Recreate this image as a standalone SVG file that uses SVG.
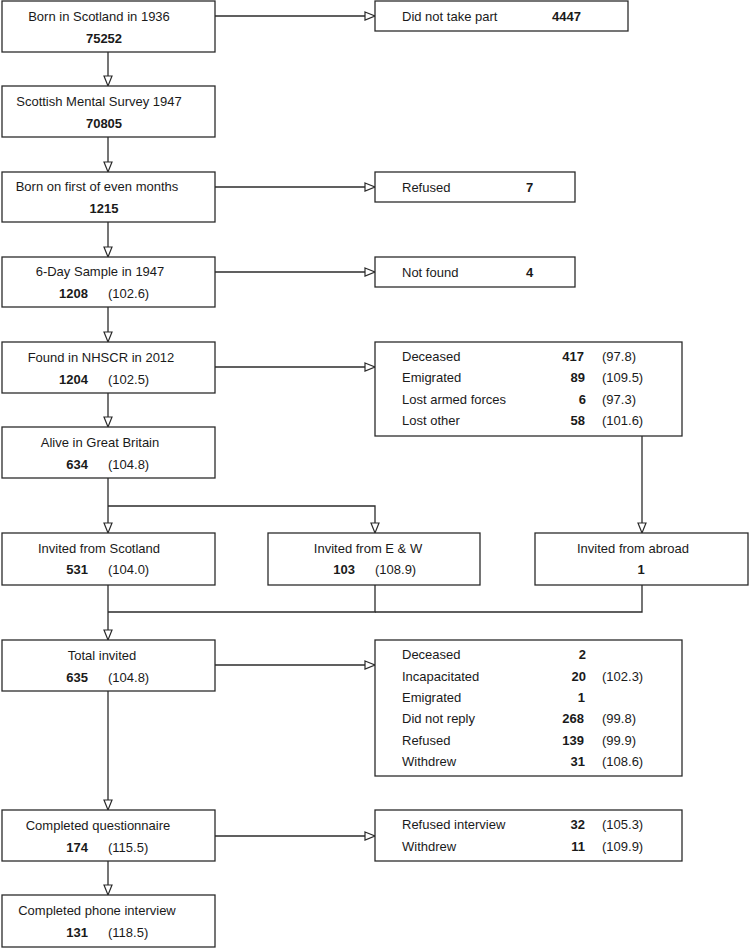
<svg xmlns="http://www.w3.org/2000/svg" width="750" height="948" viewBox="0 0 750 948">
<style>
  .box { fill: #fff; stroke: #2b2b2b; stroke-width: 1.3; }
  .conn { fill: none; stroke: #2b2b2b; stroke-width: 1.3; }
  text { font-family: "Liberation Sans", Arial, sans-serif; font-size: 13px; fill: #1a1a1a; }
  .t { text-anchor: middle; }
  .b { font-weight: bold; }
  .r { text-anchor: end; }
</style>
<defs>
  <marker id="arr" markerUnits="userSpaceOnUse" markerWidth="12" markerHeight="11" refX="10.5" refY="4.5" orient="auto" overflow="visible">
    <path d="M0.5,0.5 L10.5,4.5 L0.5,8.5 Z" fill="#fff" stroke="#2b2b2b" stroke-width="1.2"/>
  </marker>
</defs>
<rect width="750" height="948" fill="#fff"/>

<g id="connectors">
  <line class="conn" x1="108" y1="52" x2="108" y2="86" marker-end="url(#arr)"/>
  <line class="conn" x1="108" y1="137" x2="108" y2="172" marker-end="url(#arr)"/>
  <line class="conn" x1="108" y1="222" x2="108" y2="257" marker-end="url(#arr)"/>
  <line class="conn" x1="108" y1="307" x2="108" y2="342" marker-end="url(#arr)"/>
  <line class="conn" x1="108" y1="393" x2="108" y2="427" marker-end="url(#arr)"/>
  <line class="conn" x1="108" y1="478" x2="108" y2="533" marker-end="url(#arr)"/>
  <polyline class="conn" points="108,506 375,506 375,533" marker-end="url(#arr)"/>
  <line class="conn" x1="642" y1="436" x2="642" y2="533" marker-end="url(#arr)"/>
  <line class="conn" x1="108" y1="585" x2="108" y2="640" marker-end="url(#arr)"/>
  <polyline class="conn" points="375,585 375,612 108,612"/>
  <polyline class="conn" points="642,585 642,612 375,612"/>
  <line class="conn" x1="108" y1="691" x2="108" y2="810" marker-end="url(#arr)"/>
  <line class="conn" x1="108" y1="861" x2="108" y2="895" marker-end="url(#arr)"/>
  <line class="conn" x1="215" y1="16" x2="375" y2="16" marker-end="url(#arr)"/>
  <line class="conn" x1="215" y1="187" x2="375" y2="187" marker-end="url(#arr)"/>
  <line class="conn" x1="215" y1="272" x2="375" y2="272" marker-end="url(#arr)"/>
  <line class="conn" x1="215" y1="367" x2="375" y2="367" marker-end="url(#arr)"/>
  <line class="conn" x1="215" y1="665" x2="375" y2="665" marker-end="url(#arr)"/>
  <line class="conn" x1="215" y1="836" x2="375" y2="836" marker-end="url(#arr)"/>
</g>

<g id="born">
  <rect class="box" x="2" y="1" width="213" height="51"/>
  <text class="t" x="99" y="21">Born in Scotland in 1936</text>
  <text class="t b" x="104" y="43">75252</text>
</g>
<g id="survey">
  <rect class="box" x="2" y="86" width="213" height="51"/>
  <text class="t" x="99" y="106">Scottish Mental Survey 1947</text>
  <text class="t b" x="104" y="128">70805</text>
</g>
<g id="evenmonths">
  <rect class="box" x="2" y="172" width="213" height="50"/>
  <text class="t" x="97" y="191">Born on first of even months</text>
  <text class="t b" x="104" y="213">1215</text>
</g>
<g id="sixday">
  <rect class="box" x="2" y="257" width="213" height="50"/>
  <text class="t" x="100" y="276">6-Day Sample in 1947</text>
  <text class="b r" x="88" y="298">1208</text>
  <text x="108" y="298">(102.6)</text>
</g>
<g id="nhscr">
  <rect class="box" x="2" y="342" width="213" height="51"/>
  <text class="t" x="101" y="362">Found in NHSCR in 2012</text>
  <text class="b r" x="88" y="384">1204</text>
  <text x="108" y="384">(102.5)</text>
</g>
<g id="alive">
  <rect class="box" x="2" y="427" width="213" height="51"/>
  <text class="t" x="100" y="447">Alive in Great Britain</text>
  <text class="b r" x="88" y="469">634</text>
  <text x="108" y="469">(104.8)</text>
</g>
<g id="scotland">
  <rect class="box" x="2" y="533" width="213" height="52"/>
  <text class="t" x="99" y="553">Invited from Scotland</text>
  <text class="b r" x="88" y="574">531</text>
  <text x="108" y="574">(104.0)</text>
</g>
<g id="ew">
  <rect class="box" x="268" y="533" width="212" height="52"/>
  <text class="t" x="368" y="553">Invited from E &amp; W</text>
  <text class="b r" x="355" y="574">103</text>
  <text x="375" y="574">(108.9)</text>
</g>
<g id="abroad">
  <rect class="box" x="535" y="533" width="213" height="52"/>
  <text class="t" x="633" y="553">Invited from abroad</text>
  <text class="t b" x="641" y="574">1</text>
</g>
<g id="total">
  <rect class="box" x="2" y="640" width="213" height="51"/>
  <text class="t" x="102" y="660">Total invited</text>
  <text class="b r" x="88" y="682">635</text>
  <text x="108" y="682">(104.8)</text>
</g>
<g id="questionnaire">
  <rect class="box" x="2" y="810" width="213" height="51"/>
  <text class="t" x="98" y="830">Completed questionnaire</text>
  <text class="b r" x="88" y="852">174</text>
  <text x="108" y="852">(115.5)</text>
</g>
<g id="phone">
  <rect class="box" x="2" y="895" width="213" height="52"/>
  <text class="t" x="97" y="915">Completed phone interview</text>
  <text class="b r" x="88" y="937">131</text>
  <text x="108" y="937">(118.5)</text>
</g>

<g id="nottake">
  <rect class="box" x="375" y="1" width="253" height="30"/>
  <text x="402" y="21">Did not take part</text>
  <text class="b" x="552" y="21">4447</text>
</g>
<g id="refused1">
  <rect class="box" x="375" y="172" width="200" height="30"/>
  <text x="402" y="192">Refused</text>
  <text class="b" x="526" y="192">7</text>
</g>
<g id="notfound">
  <rect class="box" x="375" y="257" width="200" height="30"/>
  <text x="402" y="277">Not found</text>
  <text class="b" x="526" y="277">4</text>
</g>
<g id="losses1">
  <rect class="box" x="375" y="342" width="307" height="94"/>
  <text x="402" y="361">Deceased</text>
  <text class="b r" x="584" y="361">417</text>
  <text x="602" y="361">(97.8)</text>
  <text x="402" y="382">Emigrated</text>
  <text class="b r" x="585" y="382">89</text>
  <text x="602" y="382">(109.5)</text>
  <text x="402" y="404">Lost armed forces</text>
  <text class="b r" x="586" y="404">6</text>
  <text x="602" y="404">(97.3)</text>
  <text x="402" y="425">Lost other</text>
  <text class="b r" x="585" y="425">58</text>
  <text x="602" y="425">(101.6)</text>
</g>
<g id="losses2">
  <rect class="box" x="375" y="640" width="307" height="136"/>
  <text x="402" y="659">Deceased</text>
  <text class="b r" x="586" y="659">2</text>
  <text x="402" y="681">Incapacitated</text>
  <text class="b r" x="586" y="681">20</text>
  <text x="602" y="681">(102.3)</text>
  <text x="402" y="702">Emigrated</text>
  <text class="b r" x="585" y="702">1</text>
  <text x="402" y="723">Did not reply</text>
  <text class="b r" x="584" y="723">268</text>
  <text x="602" y="723">(99.8)</text>
  <text x="402" y="745">Refused</text>
  <text class="b r" x="584" y="745">139</text>
  <text x="602" y="745">(99.9)</text>
  <text x="402" y="766">Withdrew</text>
  <text class="b r" x="585" y="766">31</text>
  <text x="602" y="766">(108.6)</text>
</g>
<g id="losses3">
  <rect class="box" x="375" y="810" width="307" height="51"/>
  <text x="402" y="829">Refused interview</text>
  <text class="b r" x="585" y="829">32</text>
  <text x="602" y="829">(105.3)</text>
  <text x="402" y="851">Withdrew</text>
  <text class="b r" x="585" y="851">11</text>
  <text x="602" y="851">(109.9)</text>
</g>
</svg>
